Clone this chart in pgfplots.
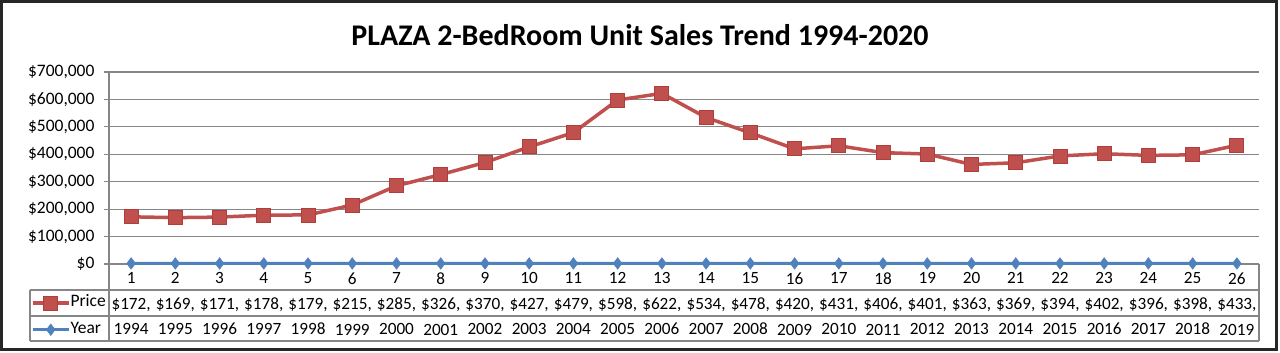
\documentclass[border=0pt]{standalone}
\usepackage{pgfplots}
\pgfplotsset{compat=1.18}
\usepackage{fontspec}
\setmainfont{Carlito}
\definecolor{xred}{HTML}{C0504D}
\definecolor{xredd}{HTML}{B03E3B}
\definecolor{xblue}{HTML}{4F81BD}
\definecolor{xgrid}{HTML}{868686}
\begin{document}
\begin{tikzpicture}
\begin{axis}[
  at={(0pt,0pt)}, anchor=south west,
  scale only axis, width=1150pt, height=192pt,
  xmin=0.5, xmax=26.5, ymin=0, ymax=700000,
  scaled y ticks=false,
  axis x line*=bottom, axis y line*=left,
  axis line style={-, draw=xgrid, line width=1.2pt},
  xtick={1,...,26},
  xticklabels={{1\\\$172,\\1994},{2\\\$169,\\1995},{3\\\$171,\\1996},{4\\\$178,\\1997},{5\\\$179,\\1998},{6\\\$215,\\1999},{7\\\$285,\\2000},{8\\\$326,\\2001},{9\\\$370,\\2002},{10\\\$427,\\2003},{11\\\$479,\\2004},{12\\\$598,\\2005},{13\\\$622,\\2006},{14\\\$534,\\2007},{15\\\$478,\\2008},{16\\\$420,\\2009},{17\\\$431,\\2010},{18\\\$406,\\2011},{19\\\$401,\\2012},{20\\\$363,\\2013},{21\\\$369,\\2014},{22\\\$394,\\2015},{23\\\$402,\\2016},{24\\\$396,\\2017},{25\\\$398,\\2018},{26\\\$433,\\2019}},
  xticklabel style={align=center, font=\fontsize{17.2}{25.5}\selectfont, inner sep=0pt, yshift=-3.5pt},
  x tick style={draw=none},
  ytick={0,100000,200000,300000,400000,500000,600000,700000},
  yticklabels={\$0,{\$100,000},{\$200,000},{\$300,000},{\$400,000},{\$500,000},{\$600,000},{\$700,000}},
  yticklabel style={font=\fontsize{17.5}{20}\selectfont, xshift=-6pt},
  y tick style={draw=xgrid, line width=1.2pt},
  tick align=outside, major tick length=5pt,
  ymajorgrids, grid style={draw=xgrid, line width=1.2pt},
  clip=false,
  legend style={at={(axis description cs:0,0)}, anchor=north east, xshift=-3pt, yshift=-32pt,
    draw=none, fill=none, inner sep=0pt, row sep=13pt,
    font=\fontsize{17.5}{20}\selectfont,
    nodes={inner sep=0pt, text height=10pt, text depth=3pt}},
  legend cell align=left,
  legend image code/.code={\draw[mark repeat=2,mark phase=2,#1] plot coordinates {(0pt,0pt) (18pt,0pt) (36pt,0pt)};},
]
\addplot[color=xred, line width=3.5pt, mark=square*, mark size=7pt,
  mark options={fill=xred, draw=xredd, line width=0.8pt}]
  coordinates {(1,172000) (2,169000) (3,171000) (4,178000) (5,179000) (6,215000) (7,285000) (8,326000) (9,370000) (10,427000) (11,479000) (12,598000) (13,622000) (14,534000) (15,478000) (16,420000) (17,431000) (18,406000) (19,401000) (20,363000) (21,369000) (22,394000) (23,402000) (24,396000) (25,398000) (26,433000)};
\addlegendentry{Price}
\addplot[color=xblue, line width=3pt, mark=diamond*, mark size=5.8pt,
  mark options={fill=xblue, draw=xblue, line width=0.5pt}]
  coordinates {(1,1994) (2,1995) (3,1996) (4,1997) (5,1998) (6,1999) (7,2000) (8,2001) (9,2002) (10,2003) (11,2004) (12,2005) (13,2006) (14,2007) (15,2008) (16,2009) (17,2010) (18,2011) (19,2012) (20,2013) (21,2014) (22,2015) (23,2016) (24,2017) (25,2018) (26,2019)};
\addlegendentry{Year}
\end{axis}
% data table grid
\draw[xgrid, line width=1.2pt] (-79pt,-26pt) -- (1150pt,-26pt);
\draw[xgrid, line width=1.2pt] (-79pt,-52pt) -- (1150pt,-52pt);
\draw[xgrid, line width=1.2pt] (-79pt,-77pt) -- (1150pt,-77pt);
\draw[xgrid, line width=1.2pt] (-79pt,-26pt) -- (-79pt,-77pt);
\draw[xgrid, line width=1.2pt] (0pt,0pt) -- (0pt,-77pt);
\draw[xgrid, line width=1.2pt] (1150pt,0pt) -- (1150pt,-77pt);
% title
\node[font=\fontsize{30}{33}\selectfont\bfseries] at (531pt,229pt) {PLAZA 2-BedRoom Unit Sales Trend 1994-2020};
% frame
\draw[black!85, line width=3pt] (-107.5pt,262.5pt) rectangle (1167.5pt,-85.5pt);
\pgfresetboundingbox
\path[use as bounding box] (-109pt,-89pt) rectangle (1171pt,264pt);
\end{tikzpicture}
\end{document}
